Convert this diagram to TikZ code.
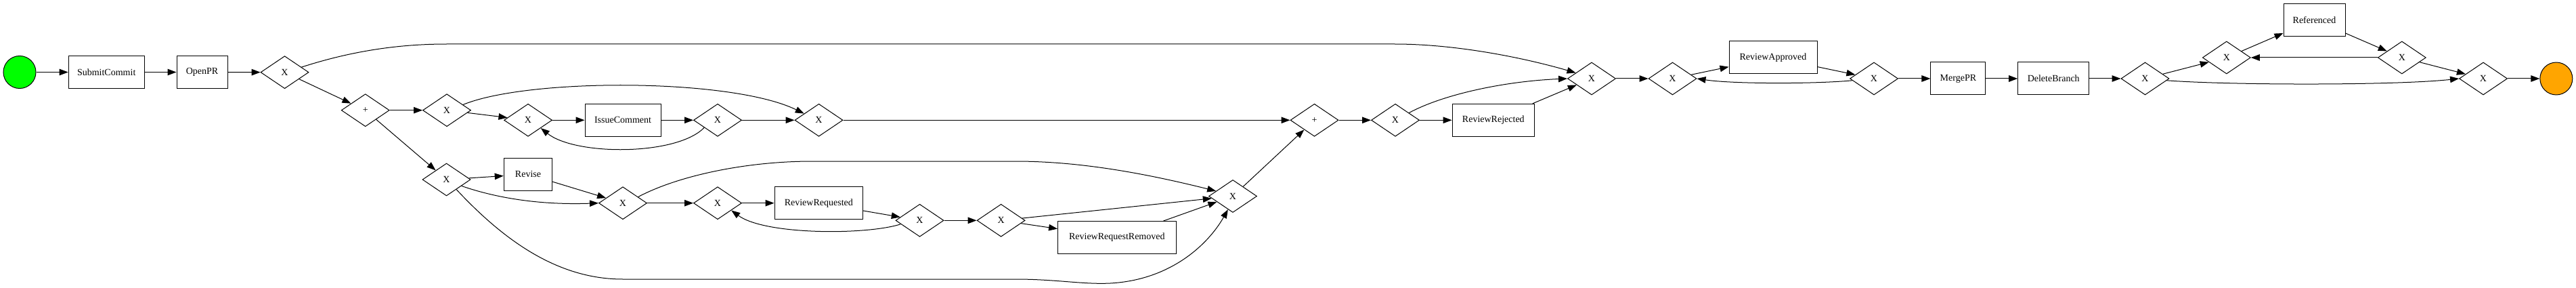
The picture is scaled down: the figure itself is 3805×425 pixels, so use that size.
\documentclass[tikz,border=0pt]{standalone}
\usepackage{fontspec}
\setmainfont{Liberation Serif}
\usetikzlibrary{shapes.geometric,arrows.meta}
\definecolor{startgreen}{HTML}{00FF00}
\definecolor{endorange}{HTML}{FFA500}
\begin{document}
\begin{tikzpicture}[x=1pt,y=-1pt,
  every node/.style={font=\fontsize{14}{16}\selectfont},
  task/.style={draw, rectangle, inner sep=0pt, minimum height=48pt, line width=1pt},
  gw/.style={draw, diamond, minimum width=71pt, minimum height=48pt, inner sep=0pt, line width=1pt},
  ev/.style={draw, circle, minimum size=48pt, inner sep=0pt, line width=1pt},
  flow/.style={-{Triangle[length=13pt,width=9.5pt]}, line width=1pt},
]
\useasboundingbox (0,0) rectangle (3805,425);
% nodes
\node[ev, fill=startgreen] (start) at (29,106.5) {};
\node[task, minimum width=112pt] (sc) at (157.2,106.5) {SubmitCommit};
\node[task, minimum width=75pt] (opr) at (298.5,106.5) {OpenPR};
\node[gw] (g1) at (420.5,106.7) {X};
\node[gw] (p1) at (539.7,162.7) {+};
\node[gw] (ga) at (660,162.7) {X};
\node[gw] (gb) at (780,177.3) {X};
\node[task, minimum width=112pt] (ic) at (920,177.3) {IssueComment};
\node[gw] (gc) at (1060,177.3) {X};
\node[gw] (gd) at (1209.5,177.3) {X};
\node[gw] (ge) at (659.5,265) {X};
\node[task, minimum width=71.6pt] (rev) at (780,257.2) {Revise};
\node[gw] (gf) at (920,299.7) {X};
\node[gw] (gg) at (1060,299.7) {X};
\node[task, minimum width=130.6pt] (rr) at (1209.3,299.7) {ReviewRequested};
\node[gw] (gi) at (1358.5,325.3) {X};
\node[gw] (gj) at (1478.6,325.3) {X};
\node[task, minimum width=174.5pt] (rrr) at (1649.8,350.5) {ReviewRequestRemoved};
\node[gw] (gh) at (1821,289.5) {X};
\node[gw] (p2) at (1941.5,177.3) {+};
\node[gw] (gk) at (2061,177.3) {X};
\node[task, minimum width=121.5pt] (rj) at (2205.8,177.3) {ReviewRejected};
\node[gw] (gl) at (2351,116) {X};
\node[gw] (gm) at (2470.5,116) {X};
\node[task, minimum width=130pt] (ra) at (2619,85) {ReviewApproved};
\node[gw] (gn) at (2768,116) {X};
\node[task, minimum width=81pt] (mpr) at (2892.4,116) {MergePR};
\node[task, minimum width=105pt] (db) at (3033.2,116) {DeleteBranch};
\node[gw] (go) at (3168.5,116) {X};
\node[gw] (gp) at (3288.8,85) {X};
\node[task, minimum width=91pt] (ref) at (3418.5,29.2) {Referenced};
\node[gw] (gq) at (3547.8,85) {X};
\node[gw] (gr) at (3668,116) {X};
\node[ev, fill=endorange] (fin) at (3775.8,116) {};
% straight flows
\draw[flow] (start) -- (sc);
\draw[flow] (sc) -- (opr);
\draw[flow] (opr) -- (g1);
\draw[flow] (g1) -- (p1);
\draw[flow] (p1) -- (ga);
\draw[flow] (p1) -- (ge);
\draw[flow] (ga) -- (gb);
\draw[flow] (gb) -- (ic);
\draw[flow] (ic) -- (gc);
\draw[flow] (gc) -- (gd);
\draw[flow] (gd) -- (p2);
\draw[flow] (ge) -- (rev);
\draw[flow] (rev) -- (gf);
\draw[flow] (gf) -- (gg);
\draw[flow] (gg) -- (rr);
\draw[flow] (rr) -- (gi);
\draw[flow] (gi) -- (gj);
\draw[flow] (gj) -- (gh);
\draw[flow] (gj) -- (rrr);
\draw[flow] (rrr) -- (gh);
\draw[flow] (gh) -- (p2);
\draw[flow] (p2) -- (gk);
\draw[flow] (gk) -- (rj);
\draw[flow] (rj) -- (gl);
\draw[flow] (gl) -- (gm);
\draw[flow] (gm) -- (ra);
\draw[flow] (ra) -- (gn);
\draw[flow] (gn) -- (mpr);
\draw[flow] (mpr) -- (db);
\draw[flow] (db) -- (go);
\draw[flow] (go) -- (gp);
\draw[flow] (gp) -- (ref);
\draw[flow] (ref) -- (gq);
\draw[flow] (gq.west) -- (gp.east);
\draw[flow] (gq) -- (gr);
\draw[flow] (gr) -- (fin);
% curved flows
\draw[flow] (g1.17) .. controls (520,75) and (590,65) .. (660,65) -- (2060,65) .. controls (2150,65) and (2250,85) .. (gl.160);
\draw[flow] (ga.19) .. controls (780,115) and (1080,115) .. (gd.156);
\draw[flow] (gc.209) .. controls (1000,230) and (850,230) .. (gb.328);
\draw[flow] (ge.337) .. controls (750,298) and (820,302) .. (gf.west);
\draw[flow] (ge.315) .. controls (740,350) and (820,412) .. (920,412) -- (1500,412) .. controls (1560,412) and (1600,420) .. (1640,418) .. controls (1730,413) and (1785,360) .. (gh.250);
\draw[flow] (gf.22) .. controls (1000,260) and (1100,238) .. (1200,238) -- (1500,238) .. controls (1600,238) and (1700,258) .. (gh.163);
\draw[flow] (gi.191) .. controls (1280,347) and (1130,347) .. (gg.332);
\draw[flow] (gk.28) .. controls (2130,140) and (2220,120) .. (gl.west);
\draw[flow] (gn.185) .. controls (2680,124) and (2560,124) .. (gm.east);
\draw[flow] (go.-5) .. controls (3300,126) and (3540,126) .. (gr.west);
\end{tikzpicture}
\end{document}
